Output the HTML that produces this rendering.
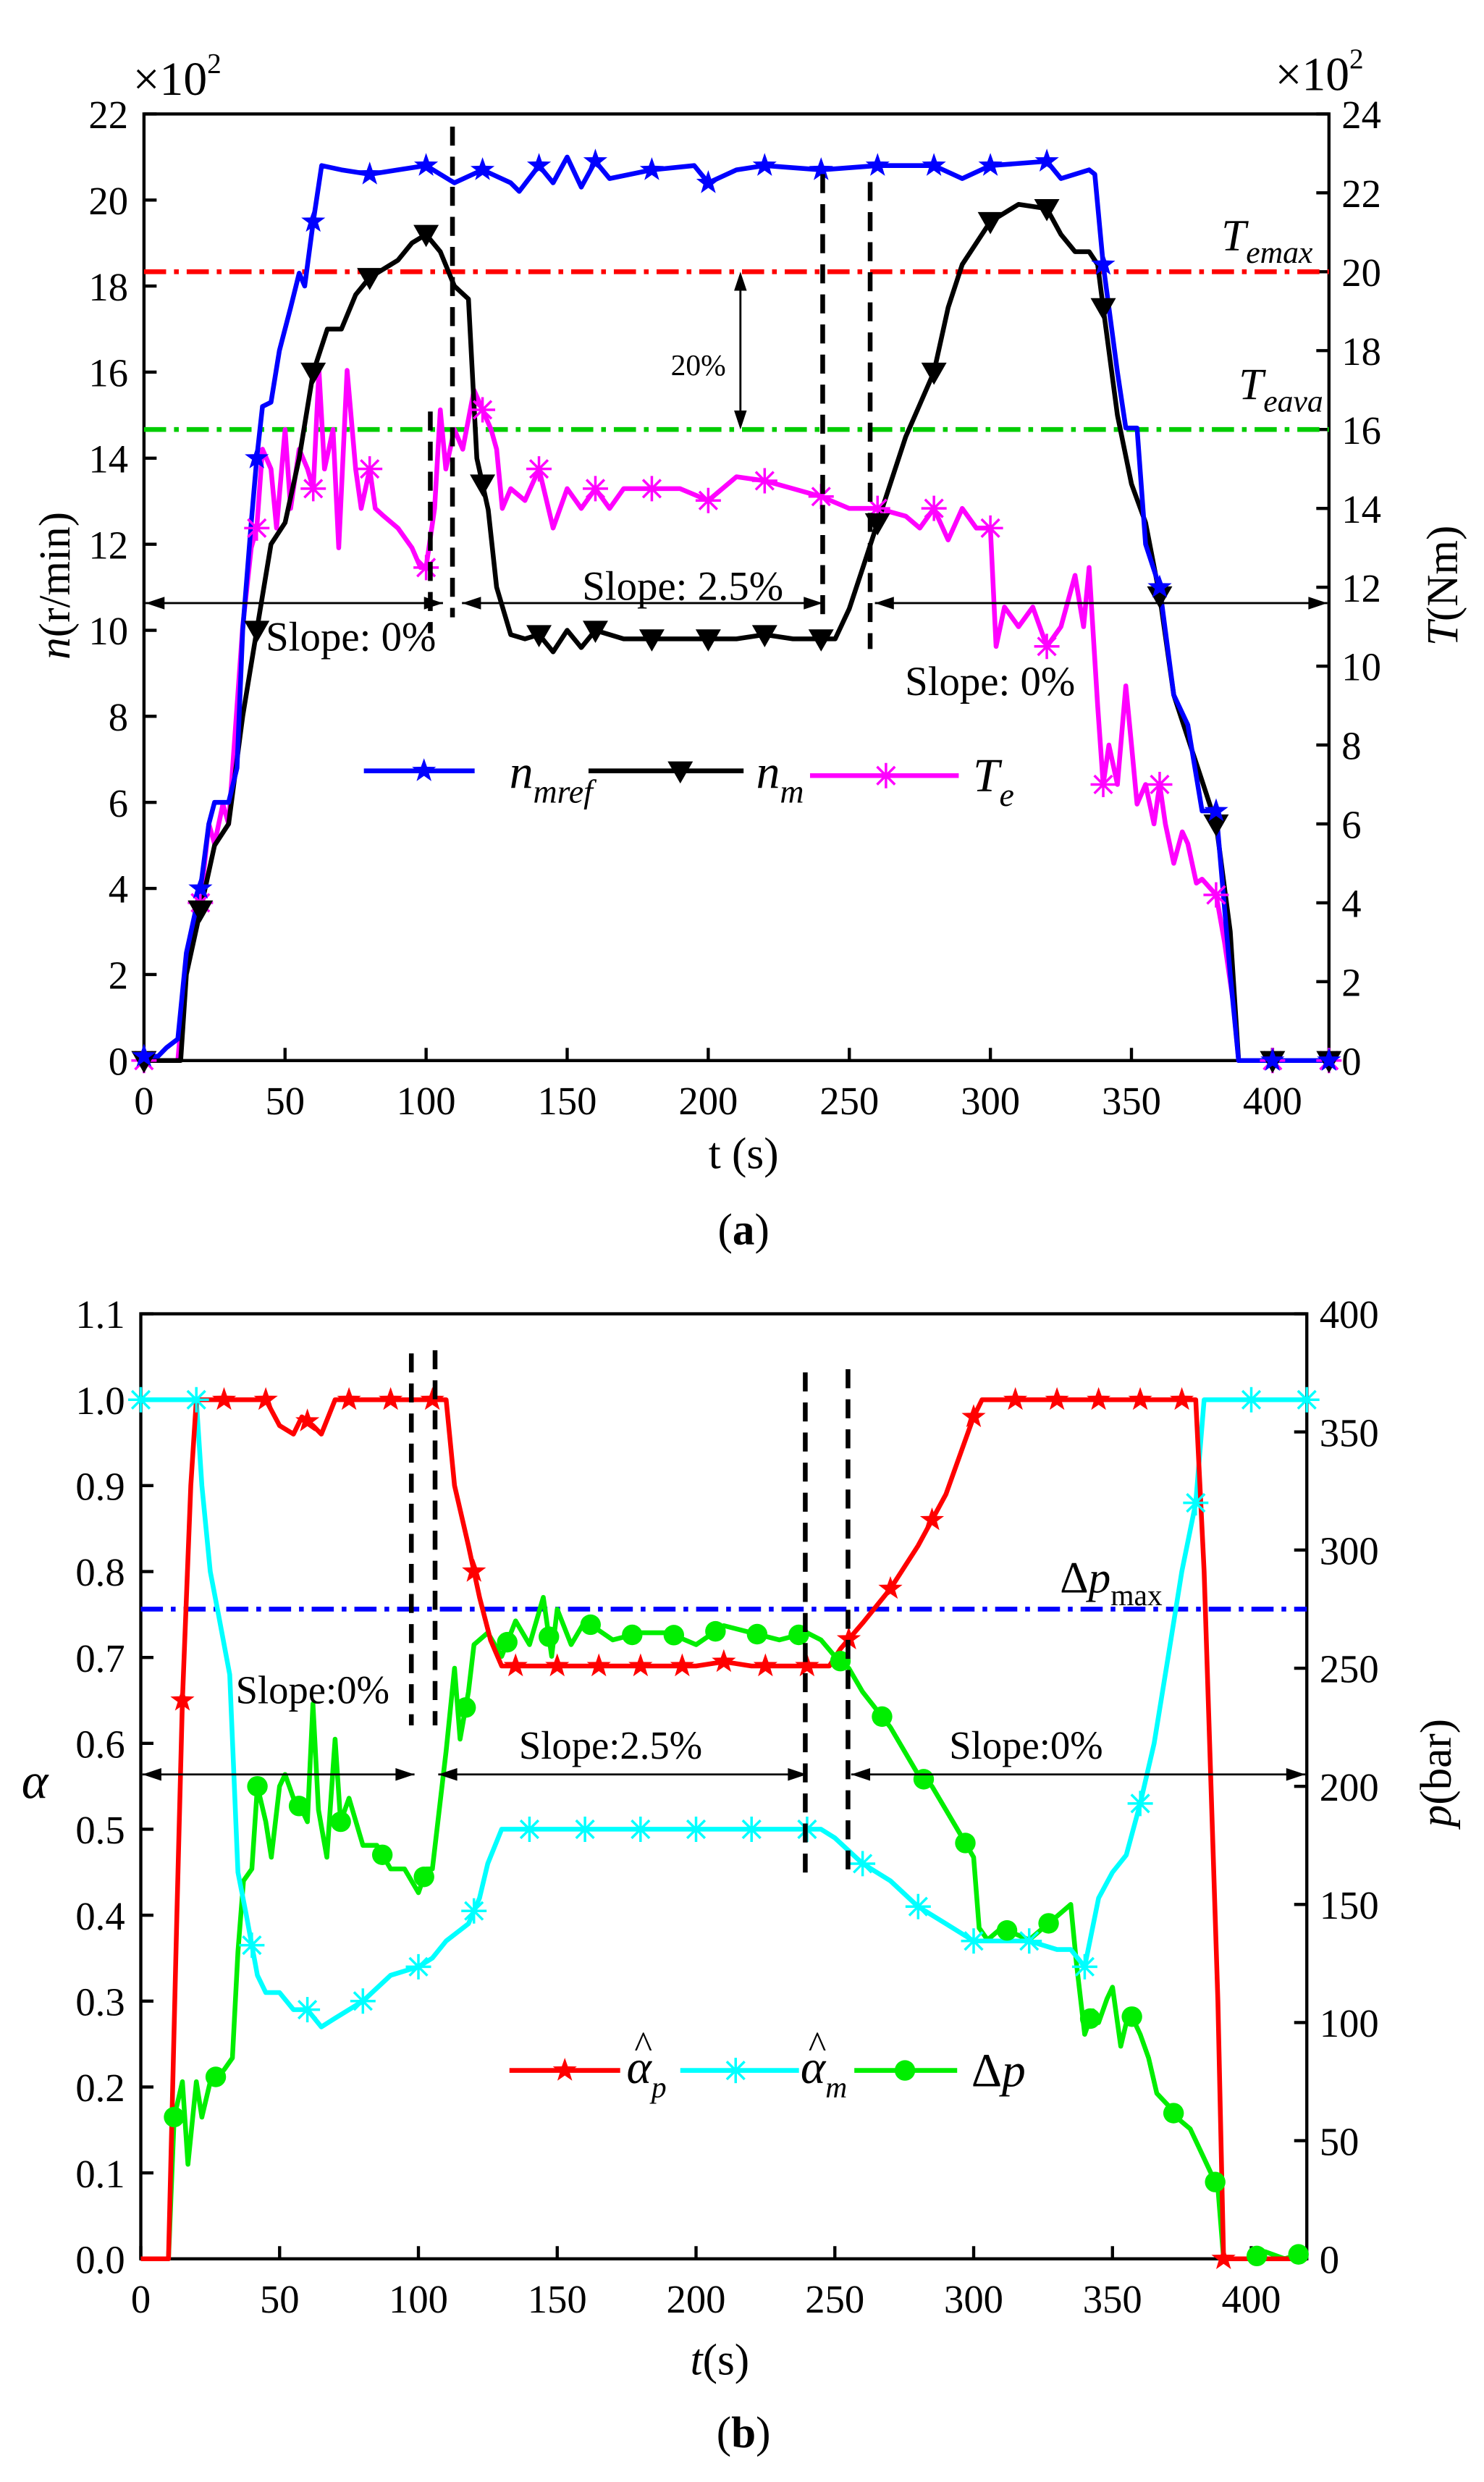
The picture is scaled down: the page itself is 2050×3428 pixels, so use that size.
<!DOCTYPE html>
<html><head><meta charset="utf-8">
<style>
html,body{margin:0;padding:0;background:#fff;}
svg{display:block;font-family:"Liberation Serif",serif;}
</style></head>
<body>
<svg id="fig" width="2050" height="3428" viewBox="0 0 938 1568" preserveAspectRatio="none" xmlns="http://www.w3.org/2000/svg">
<g id="ga"></g>
<g id="gb"></g>
</svg>
<script>
// ---------- Chart (a) data ----------
const aTref=[0,5,8,12,15,20,23,25,30,33,35,38,40,42,45,48,52,55,57,60,63,70,80,90,100,110,120,130,133,140,145,150,155,160,165,180,195,200,210,220,240,260,280,290,300,320,325,335,337,340,345,348,352,355,360,365,370,375,380,385,388,420];
const aNref=[0.1,0.1,0.3,0.5,2.5,4,5.5,6,6,6.8,10,12.5,14,15.2,15.3,16.5,17.5,18.3,18,19.5,20.8,20.7,20.6,20.7,20.8,20.4,20.7,20.4,20.2,20.8,20.4,21,20.3,20.9,20.5,20.7,20.8,20.4,20.7,20.8,20.7,20.8,20.8,20.5,20.8,20.9,20.5,20.7,20.6,18.5,16,14.7,14.7,12,11,8.5,7.8,5.8,5.8,2,0,0];
const aTm=[0,13,15,20,25,30,35,40,45,50,55,60,65,70,75,80,90,95,100,105,110,115,118,122,125,130,135,140,145,150,155,160,170,180,190,200,210,220,230,240,245,250,255,260,265,270,280,285,290,300,310,320,325,330,335,338,340,345,350,355,360,365,370,375,380,385,388,420];
const aNm=[0,0,2,3.5,5,5.5,8,10,12,12.5,14,16,17,17,17.8,18.2,18.6,19,19.2,18.8,18,17.7,14,12.8,11,9.9,9.8,9.9,9.5,10,9.6,10,9.8,9.8,9.8,9.8,9.8,9.9,9.8,9.8,9.8,10.5,11.5,12.5,13.5,14.5,16,17.5,18.5,19.5,19.9,19.8,19.2,18.8,18.8,18.5,17.5,15,13.4,12.5,10.8,8.5,7.5,6.5,5.5,3,0,0];
const aTe_t=[0,12,15,20,23,25,28,30,35,38,40,42,45,47,50,52,55,58,60,62,64,67,69,72,75,77,80,82,85,90,95,98,100,103,105,107,110,113,117,120,123,125,127,130,135,140,145,150,155,160,165,170,180,190,200,210,220,230,240,250,260,270,275,280,285,290,295,300,302,305,310,315,320,325,330,333,335,338,340,342,345,348,350,352,355,358,360,362,365,368,370,373,375,380,383,386,388,420];
const aTe=[0,0,2.5,4,6,5.5,6.5,6,11,13,13.5,15.5,15,13.5,16,14,15.5,15,14.5,17.5,15,16,13,17.5,15,14,15,14,13.8,13.5,13,12.5,12.5,14,16.5,15,16,15.5,17,16.5,16,15.5,14,14.5,14.2,15,13.5,14.5,14,14.5,14,14.5,14.5,14.5,14.2,14.8,14.7,14.5,14.3,14,14,13.8,13.5,14,13.2,14,13.5,13.5,10.5,11.5,11,11.5,10.5,11,12.3,11,12.5,9,7,8,7,9.5,8,6.5,7,6,7,6,5,5.8,5.5,4.5,4.6,4.2,3,1.5,0,0];
const aXTicks=[0,50,100,150,200,250,300,350,400];
const aYLTicks=[0,2,4,6,8,10,12,14,16,18,20,22];
const aYRTicks=[0,2,4,6,8,10,12,14,16,18,20,22,24];
const aTemax=20, aTeava=16;
// ---------- Chart (b) data ----------
const bTp=[0,10,13,15,18,20,40,45,50,55,58,62,65,70,110,113,118,122,126,130,140,160,180,200,210,220,240,248,252,260,270,280,290,300,303,380,383,388,390,420];
const bAp=[0,0,0.4,0.65,0.9,1.0,1.0,1.0,0.97,0.96,0.98,0.97,0.96,1.0,1.0,0.9,0.83,0.77,0.72,0.69,0.69,0.69,0.69,0.69,0.695,0.69,0.69,0.69,0.71,0.74,0.78,0.83,0.89,0.98,1.0,1.0,0.8,0.3,0,0];
const bTm=[0,20,22,25,28,32,35,38,42,45,50,55,60,65,70,80,90,100,105,110,118,122,125,130,140,200,240,245,250,260,270,280,290,300,310,320,330,335,340,345,350,355,360,365,370,375,380,383,420];
const bAm=[1.0,1.0,0.9,0.8,0.75,0.68,0.45,0.4,0.33,0.31,0.31,0.29,0.29,0.27,0.28,0.3,0.33,0.34,0.35,0.37,0.39,0.42,0.46,0.5,0.5,0.5,0.5,0.5,0.49,0.46,0.44,0.41,0.39,0.37,0.37,0.37,0.36,0.36,0.34,0.42,0.45,0.47,0.53,0.6,0.7,0.8,0.88,1.0,1.0];
const bTd=[0,10,12,15,17,20,22,25,30,33,35,37,40,42,45,47,50,52,55,58,60,62,64,67,70,72,75,80,85,90,95,100,103,105,108,110,113,115,118,120,125,130,135,140,145,148,150,155,160,170,180,190,200,210,220,230,240,245,250,255,260,270,280,285,290,295,300,302,305,310,320,325,330,335,337,340,343,345,348,350,353,356,360,363,366,370,373,378,382,388,390,400,405,412,420];
const bDp=[0,0,60,75,40,75,60,75,80,85,130,160,165,200,185,170,200,205,195,190,185,235,190,170,220,185,195,175,175,165,165,155,165,165,195,215,250,220,240,260,265,255,270,260,280,255,275,260,270,262,265,265,260,268,265,262,265,262,255,250,240,225,205,200,190,180,170,140,135,140,135,140,145,150,125,95,105,100,110,115,90,105,95,85,70,65,60,55,45,30,0,0,3,0,3];
const bXTicks=[0,50,100,150,200,250,300,350,400];
const bYLTicks=[0,0.1,0.2,0.3,0.4,0.5,0.6,0.7,0.8,0.9,1.0,1.1];
const bYRTicks=[0,50,100,150,200,250,300,350,400];
const bDpmax=275;

const NS="http://www.w3.org/2000/svg";
function mk(parent,tag,attrs,name,text){
  const e=document.createElementNS(NS,tag);
  for(const k in attrs)e.setAttribute(k,attrs[k]);
  
  
  if(text!==undefined)e.textContent=text;
  parent.appendChild(e);return e;
}
function interp(ts,vs,t){
  if(t<=ts[0])return vs[0];
  for(let i=1;i<ts.length;i++){if(t<=ts[i]){const f=(t-ts[i-1])/(ts[i]-ts[i-1]);return vs[i-1]+f*(vs[i]-vs[i-1]);}}
  return vs[vs.length-1];
}
function lin(d0,d1,r0,r1){return v=>r0+(v-d0)/(d1-d0)*(r1-r0);}
function marker(g,type,x,y,color,name){
  if(type==='star'){let p=[];for(let i=0;i<10;i++){const r=i%2?3.2:8;const a=-Math.PI/2+i*Math.PI/5;p.push((x+r*Math.cos(a)).toFixed(1)+','+(y+r*Math.sin(a)).toFixed(1));}
    mk(g,'polygon',{points:p.join(' '),fill:color},name);}
  else if(type==='tri'){mk(g,'polygon',{points:`${x-8},${y-6} ${x+8},${y-6} ${x},${y+8}`,fill:color},name);}
  else if(type==='ast'){let d='';for(let i=0;i<4;i++){const a=i*Math.PI/4;d+=`M${x-8*Math.cos(a)},${y-8*Math.sin(a)}L${x+8*Math.cos(a)},${y+8*Math.sin(a)}`;}
    mk(g,'path',{d:d,stroke:color,'stroke-width':1.6,fill:'none'},name);}
  else if(type==='circ'){mk(g,'circle',{cx:x,cy:y,r:6.5,fill:color},name);}
}
function axes(g,X,YL,YR,xt,ylt,yrt,x0,x1,y0,y1,fmtL){
  mk(g,'rect',{x:x0,y:y1,width:x1-x0,height:y0-y1,fill:'none',stroke:'#000','stroke-width':2},'plot-frame');
  xt.forEach(v=>{const x=X(v);mk(g,'line',{x1:x,y1:y0,x2:x,y2:y0-8,stroke:'#000','stroke-width':2},'x-tick');
    mk(g,'text',{x:x,y:y0+34,'font-size':25,'text-anchor':'middle'},'x-tick-label',String(v));});
  ylt.forEach(v=>{const y=YL(v);mk(g,'line',{x1:x0,y1:y,x2:x0+8,y2:y,stroke:'#000','stroke-width':2},'y-left-tick');
    mk(g,'text',{x:x0-10,y:y+9,'font-size':25,'text-anchor':'end'},'y-left-tick-label',fmtL(v));});
  yrt.forEach(v=>{const y=YR(v);mk(g,'line',{x1:x1,y1:y,x2:x1-8,y2:y,stroke:'#000','stroke-width':2},'y-right-tick');
    mk(g,'text',{x:x1+8,y:y+9,'font-size':25,'text-anchor':'start'},'y-right-tick-label',String(v));});
}
function series(g,X,Y,ts,vs,color,name){
  const d=ts.map((t,i)=>(i?'L':'M')+X(t).toFixed(1)+','+Y(vs[i]).toFixed(1)).join('');
  mk(g,'path',{d:d,stroke:color,'stroke-width':3,fill:'none','stroke-linejoin':'round'},name);
}
function arrowH(g,xa,xb,y,name){
  mk(g,'line',{x1:xa,y1:y,x2:xb,y2:y,stroke:'#000','stroke-width':1.3},name);
  mk(g,'polygon',{points:`${xa},${y} ${xa+12},${y-4} ${xa+12},${y+4}`,fill:'#000'},name+'-head-left');
  mk(g,'polygon',{points:`${xb},${y} ${xb-12},${y-4} ${xb-12},${y+4}`,fill:'#000'},name+'-head-right');
}
function vdash(g,x,ya,yb,name){mk(g,'line',{x1:x,y1:ya,x2:x,y2:yb,stroke:'#000','stroke-width':3,'stroke-dasharray':'12,7'},name);}

// ===== Chart (a) =====
(function(){
  const g=document.getElementById('ga');
  const x0=91,x1=840,y0=670,y1=72;
  const X=lin(0,420,x0,x1), YL=lin(0,22,y0,y1), YR=lin(0,24,y0,y1);
  axes(g,X,YL,YR,aXTicks,aYLTicks,aYRTicks,x0,x1,y0,y1,v=>String(v));
  const m1=mk(g,'text',{x:84,y:60,'font-size':30},'left-multiplier');m1.innerHTML='×10<tspan font-size="18" dy="-14">2</tspan>';
  const m2=mk(g,'text',{x:806,y:57,'font-size':30},'right-multiplier');m2.innerHTML='×10<tspan font-size="18" dy="-14">2</tspan>';
  const yl=mk(g,'text',{x:0,y:0,'font-size':28,'text-anchor':'middle',transform:'translate(44,370) rotate(-90)'},'y-left-title');
  yl.innerHTML='<tspan font-style="italic">n</tspan>(r/min)';
  const yr=mk(g,'text',{x:0,y:0,'font-size':28,'text-anchor':'middle',transform:'translate(921,370) rotate(-90)'},'y-right-title');
  yr.innerHTML='<tspan font-style="italic">T</tspan>(Nm)';
  mk(g,'text',{x:470,y:738,'font-size':28,'text-anchor':'middle'},'x-axis-title','t (s)');
  const la=mk(g,'text',{x:470,y:786,'font-size':28,'text-anchor':'middle'},'panel-label-a');
  la.innerHTML='(<tspan font-weight="bold">a</tspan>)';
  mk(g,'line',{x1:x0,y1:YR(aTemax),x2:x1,y2:YR(aTemax),stroke:'#f00','stroke-width':3,'stroke-dasharray':'14,5,3,5'},'temax-line');
  mk(g,'line',{x1:x0,y1:YR(aTeava),x2:x1,y2:YR(aTeava),stroke:'#0c0','stroke-width':3,'stroke-dasharray':'14,5,3,5'},'teava-line');
  const t1=mk(g,'text',{x:772,y:158,'font-size':28,'font-style':'italic'},'temax-label');t1.innerHTML='T<tspan font-size="20" dy="8">emax</tspan>';
  const t2=mk(g,'text',{x:783,y:252,'font-size':28,'font-style':'italic'},'teava-label');t2.innerHTML='T<tspan font-size="20" dy="8">eava</tspan>';
  mk(g,'line',{x1:468,y1:YR(aTemax)+2,x2:468,y2:YR(aTeava)-2,stroke:'#000','stroke-width':1.3},'percent-arrow');
  mk(g,'polygon',{points:`468,${YR(aTemax)} 464,${YR(aTemax)+12} 472,${YR(aTemax)+12}`,fill:'#000'},'percent-arrow-head');
  mk(g,'polygon',{points:`468,${YR(aTeava)} 464,${YR(aTeava)-12} 472,${YR(aTeava)-12}`,fill:'#000'},'percent-arrow-head');
  mk(g,'text',{x:424,y:237,'font-size':19},'percent-label','20%');
  series(g,X,YR,aTe_t,aTe,'#f0f','te-line');
  series(g,X,YL,aTm,aNm,'#000','nm-line');
  series(g,X,YL,aTref,aNref,'#00f','nmref-line');
  for(let t=0;t<=420;t+=20){
    marker(g,'ast',X(t),YR(interp(aTe_t,aTe,t)),'#f0f','te-marker');
    marker(g,'tri',X(t),YL(interp(aTm,aNm,t)),'#000','nm-marker');
    marker(g,'star',X(t),YL(interp(aTref,aNref,t)),'#00f','nmref-marker');
  }
  vdash(g,272,260,400,'divider-1');vdash(g,286,80,390,'divider-2');
  vdash(g,520,110,395,'divider-3');vdash(g,550,115,410,'divider-4');
  arrowH(g,x0+1,280,381,'slope-arrow-1');arrowH(g,292,520,381,'slope-arrow-2');arrowH(g,553,x1-1,381,'slope-arrow-3');
  mk(g,'text',{x:168,y:411,'font-size':26},'slope-label-1','Slope: 0%');
  mk(g,'text',{x:368,y:379,'font-size':26},'slope-label-2','Slope: 2.5%');
  mk(g,'text',{x:572,y:439,'font-size':26},'slope-label-3','Slope: 0%');
  mk(g,'line',{x1:230,y1:487,x2:300,y2:487,stroke:'#00f','stroke-width':3},'legend-nmref-line');
  marker(g,'star',268,487,'#00f','legend-nmref-marker');
  const l1=mk(g,'text',{x:322,y:498,'font-size':30,'font-style':'italic'},'legend-nmref-label');l1.innerHTML='n<tspan font-size="21" dy="9">mref</tspan>';
  mk(g,'line',{x1:372,y1:487,x2:470,y2:487,stroke:'#000','stroke-width':3},'legend-nm-line');
  marker(g,'tri',430,487,'#000','legend-nm-marker');
  const l2=mk(g,'text',{x:478,y:498,'font-size':30,'font-style':'italic'},'legend-nm-label');l2.innerHTML='n<tspan font-size="21" dy="9">m</tspan>';
  mk(g,'line',{x1:512,y1:490,x2:606,y2:490,stroke:'#f0f','stroke-width':3},'legend-te-line');
  marker(g,'ast',560,490,'#f0f','legend-te-marker');
  const l3=mk(g,'text',{x:615,y:500,'font-size':30,'font-style':'italic'},'legend-te-label');l3.innerHTML='T<tspan font-size="21" dy="9">e</tspan>';
})();

// ===== Chart (b) =====
(function(){
  const g=document.getElementById('gb');
  const x0=89,x1=826,y0=1427,y1=830;
  const X=lin(0,420,x0,x1), YL=lin(0,1.1,y0,y1), YR=lin(0,400,y0,y1);
  axes(g,X,YL,YR,bXTicks,bYLTicks,bYRTicks,x0,x1,y0,y1,v=>v.toFixed(1));
  mk(g,'text',{x:22,y:1136,'font-size':32,'font-style':'italic','text-anchor':'middle'},'y-left-title','α');
  const yr=mk(g,'text',{x:0,y:0,'font-size':28,'text-anchor':'middle',transform:'translate(917,1120) rotate(-90)'},'y-right-title');
  yr.innerHTML='<tspan font-style="italic">p</tspan>(bar)';
  const xt=mk(g,'text',{x:455,y:1500,'font-size':28,'text-anchor':'middle'},'x-axis-title');xt.innerHTML='<tspan font-style="italic">t</tspan>(s)';
  const lb=mk(g,'text',{x:470,y:1546,'font-size':28,'text-anchor':'middle'},'panel-label-b');lb.innerHTML='(<tspan font-weight="bold">b</tspan>)';
  mk(g,'line',{x1:x0,y1:YR(bDpmax),x2:x1,y2:YR(bDpmax),stroke:'#00f','stroke-width':3,'stroke-dasharray':'14,5,3,5'},'dpmax-line');
  const dl=mk(g,'text',{x:670,y:1006,'font-size':28},'dpmax-label');dl.innerHTML='Δ<tspan font-style="italic">p</tspan><tspan font-size="19" dy="8">max</tspan>';
  series(g,X,YR,bTd,bDp,'#0e0','dp-line');
  series(g,X,YL,bTm,bAm,'#0ff','alpham-line');
  series(g,X,YL,bTp,bAp,'#f00','alphap-line');
  for(let t=0;t<=420;t+=20){marker(g,'ast',X(t),YL(interp(bTm,bAm,t)),'#0ff','alpham-marker');}
  for(let t=15;t<=390;t+=15){marker(g,'star',X(t),YL(interp(bTp,bAp,t)),'#f00','alphap-marker');}
  for(let t=12;t<=420;t+=15){marker(g,'circ',X(t),YR(interp(bTd,bDp,t)),'#0e0','dp-marker');}
  vdash(g,260,855,1090,'divider-1');vdash(g,275,853,1090,'divider-2');
  vdash(g,509,867,1190,'divider-3');vdash(g,536,865,1185,'divider-4');
  arrowH(g,x0+1,262,1121,'slope-arrow-1');arrowH(g,277,510,1121,'slope-arrow-2');arrowH(g,538,x1-1,1121,'slope-arrow-3');
  mk(g,'text',{x:149,y:1076,'font-size':25},'slope-label-1','Slope:0%');
  mk(g,'text',{x:328,y:1111,'font-size':25},'slope-label-2','Slope:2.5%');
  mk(g,'text',{x:600,y:1111,'font-size':25},'slope-label-3','Slope:0%');
  mk(g,'line',{x1:322,y1:1308,x2:392,y2:1308,stroke:'#f00','stroke-width':3},'legend-alphap-line');
  marker(g,'star',357,1308,'#f00','legend-alphap-marker');
  const a1=mk(g,'text',{x:396,y:1316,'font-size':30,'font-style':'italic'},'legend-alphap-label');a1.innerHTML='α<tspan font-size="19" dy="9">p</tspan>';
  mk(g,'text',{x:401,y:1300,'font-size':24},'legend-alphap-hat','^');
  mk(g,'line',{x1:430,y1:1308,x2:505,y2:1308,stroke:'#0ff','stroke-width':3},'legend-alpham-line');
  marker(g,'ast',465,1308,'#0ff','legend-alpham-marker');
  const a2=mk(g,'text',{x:506,y:1316,'font-size':30,'font-style':'italic'},'legend-alpham-label');a2.innerHTML='α<tspan font-size="19" dy="9">m</tspan>';
  mk(g,'text',{x:511,y:1300,'font-size':24},'legend-alpham-hat','^');
  mk(g,'line',{x1:540,y1:1308,x2:605,y2:1308,stroke:'#0e0','stroke-width':3},'legend-dp-line');
  marker(g,'circ',572,1308,'#0e0','legend-dp-marker');
  const a3=mk(g,'text',{x:614,y:1318,'font-size':30},'legend-dp-label');a3.innerHTML='Δ<tspan font-style="italic">p</tspan>';
})();
</script>
</body></html>
